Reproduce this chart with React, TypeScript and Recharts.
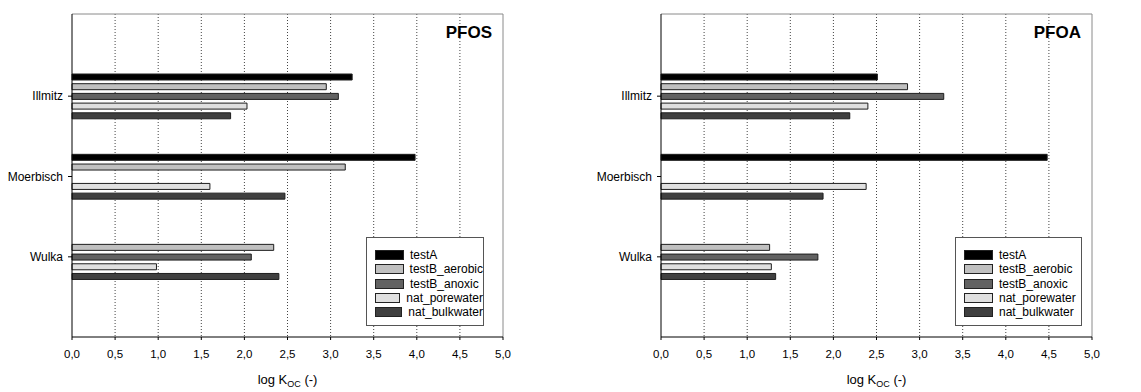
import React from 'react';
import { BarChart, Bar, XAxis, YAxis, CartesianGrid, Legend } from 'recharts';

const sites = ['Illmitz', 'Moerbisch', 'Wulka'];

const seriesNames = ['testA', 'testB_aerobic', 'testB_anoxic', 'nat_porewater', 'nat_bulkwater'];
const seriesColors = ['#000000', '#c0c0c0', '#626262', '#e0e0e0', '#404040'];

// PFOS values per site (Illmitz, Moerbisch, Wulka)
const pfosTestA = [3.25, 3.98, null];
const pfosAerobic = [2.95, 3.17, 2.34];
const pfosAnoxic = [3.09, null, 2.08];
const pfosPorewater = [2.03, 1.6, 0.98];
const pfosBulkwater = [1.84, 2.47, 2.4];

// PFOA values per site
const pfoaTestA = [2.51, 4.48, null];
const pfoaAerobic = [2.86, null, 1.26];
const pfoaAnoxic = [3.28, null, 1.82];
const pfoaPorewater = [2.4, 2.38, 1.28];
const pfoaBulkwater = [2.19, 1.88, 1.33];

const xTicks = [0, 0.5, 1, 1.5, 2, 2.5, 3, 3.5, 4, 4.5, 5];
const gridValues = [0.5, 1, 1.5, 2, 2.5, 3, 3.5, 4, 4.5];

const FONT = '"Liberation Sans", Arial, sans-serif';

const buildRows = (cols: (number | null)[][]) =>
  sites.map((site, i) => {
    const row: any = { site };
    seriesNames.forEach((name, j) => {
      row[name] = cols[j][i];
    });
    return row;
  });

const pfosData = buildRows([pfosTestA, pfosAerobic, pfosAnoxic, pfosPorewater, pfosBulkwater]);
const pfoaData = buildRows([pfoaTestA, pfoaAerobic, pfoaAnoxic, pfoaPorewater, pfoaBulkwater]);

const LegendBox = ({ width }: { width: number }) => (
  <div
    style={{
      width,
      height: 89,
      boxSizing: 'border-box',
      border: '1px solid #555',
      background: '#fff',
      paddingTop: 10,
      paddingLeft: 8,
      fontFamily: FONT,
      fontSize: 12,
      color: '#000',
    }}
  >
    {seriesNames.map((name, i) => (
      <div key={name} style={{ display: 'flex', alignItems: 'center', height: 14.3 }}>
        <div
          style={{
            width: 27,
            height: 8,
            background: seriesColors[i],
            border: '1px solid #222',
            marginRight: 6,
          }}
        />
        <span>{name}</span>
      </div>
    ))}
  </div>
);

const AxisTitle = (props: any) => {
  const { viewBox } = props;
  const cx = viewBox.x + viewBox.width / 2;
  return (
    <text x={cx} y={384} textAnchor="middle" fontFamily={FONT} fontSize={13} fill="#000">
      log K
      <tspan dy={3} fontSize={9}>OC</tspan>
      <tspan dy={-3}> (-)</tspan>
    </text>
  );
};

interface PanelProps {
  data: any[];
  title: string;
  width: number;
  left: number;
  rightMargin: number;
  legendWidth: number;
}

const Panel: React.FC<PanelProps> = ({ data, title, width, left, rightMargin, legendWidth }) => (
  <div style={{ position: 'absolute', left, top: 0 }}>
    <BarChart
      width={width}
      height={392}
      data={data}
      layout="vertical"
      margin={{ top: 14, right: rightMargin, left: 10, bottom: 10 }}
      barSize={6}
      barGap={3.7}
    >
      <CartesianGrid
        horizontal={false}
        verticalValues={gridValues}
        stroke="#444"
        strokeDasharray="1 2"
      />
      {/* frame: top and right borders of the plot box */}
      <CartesianGrid
        vertical={false}
        horizontalCoordinatesGenerator={({ offset }: any) => [offset.top]}
        stroke="#8a8a8a"
      />
      <CartesianGrid
        horizontal={false}
        verticalCoordinatesGenerator={({ offset }: any) => [offset.left + offset.width]}
        stroke="#8a8a8a"
      />
      <XAxis
        type="number"
        domain={[0, 5]}
        ticks={xTicks}
        tickFormatter={(v: number) => v.toFixed(1).replace('.', ',')}
        tick={{ fontSize: 11.5, fill: '#000', fontFamily: FONT }}
        tickSize={3}
        tickMargin={10}
        axisLine={{ stroke: '#000' }}
        tickLine={{ stroke: '#000' }}
        height={45}
        interval={0}
        label={<AxisTitle />}
      />
      <YAxis
        type="category"
        dataKey="site"
        width={62}
        padding={{ top: 42, bottom: 40 }}
        tick={{ fontSize: 12, fill: '#000', fontFamily: FONT }}
        tickSize={4}
        tickMargin={5}
        axisLine={{ stroke: '#000' }}
        tickLine={{ stroke: '#000' }}
      />
      <Legend
        layout="horizontal"
        verticalAlign="middle"
        align="center"
        wrapperStyle={{ left: 366, top: 237, width: legendWidth, height: 89 }}
        content={() => <LegendBox width={legendWidth} />}
      />
      {seriesNames.map((name, i) => (
        <Bar
          key={name}
          dataKey={name}
          fill={seriesColors[i]}
          stroke="#1e1e1e"
          strokeWidth={1}
          isAnimationActive={false}
        />
      ))}
    </BarChart>
    <div
      style={{
        position: 'absolute',
        right: rightMargin + 11,
        top: 23,
        fontFamily: FONT,
        fontSize: 17,
        fontWeight: 'bold',
        lineHeight: '20px',
        color: '#000',
      }}
    >
      {title}
    </div>
  </div>
);

export default function App() {
  return (
    <div
      style={{
        position: 'absolute',
        left: 0,
        top: 0,
        width: 1141,
        height: 392,
        background: '#fff',
        overflow: 'hidden',
      }}
    >
      <Panel data={pfosData} title="PFOS" width={570} left={0} rightMargin={67} legendWidth={118} />
      <Panel data={pfoaData} title="PFOA" width={552} left={589} rightMargin={49} legendWidth={127} />
    </div>
  );
}
